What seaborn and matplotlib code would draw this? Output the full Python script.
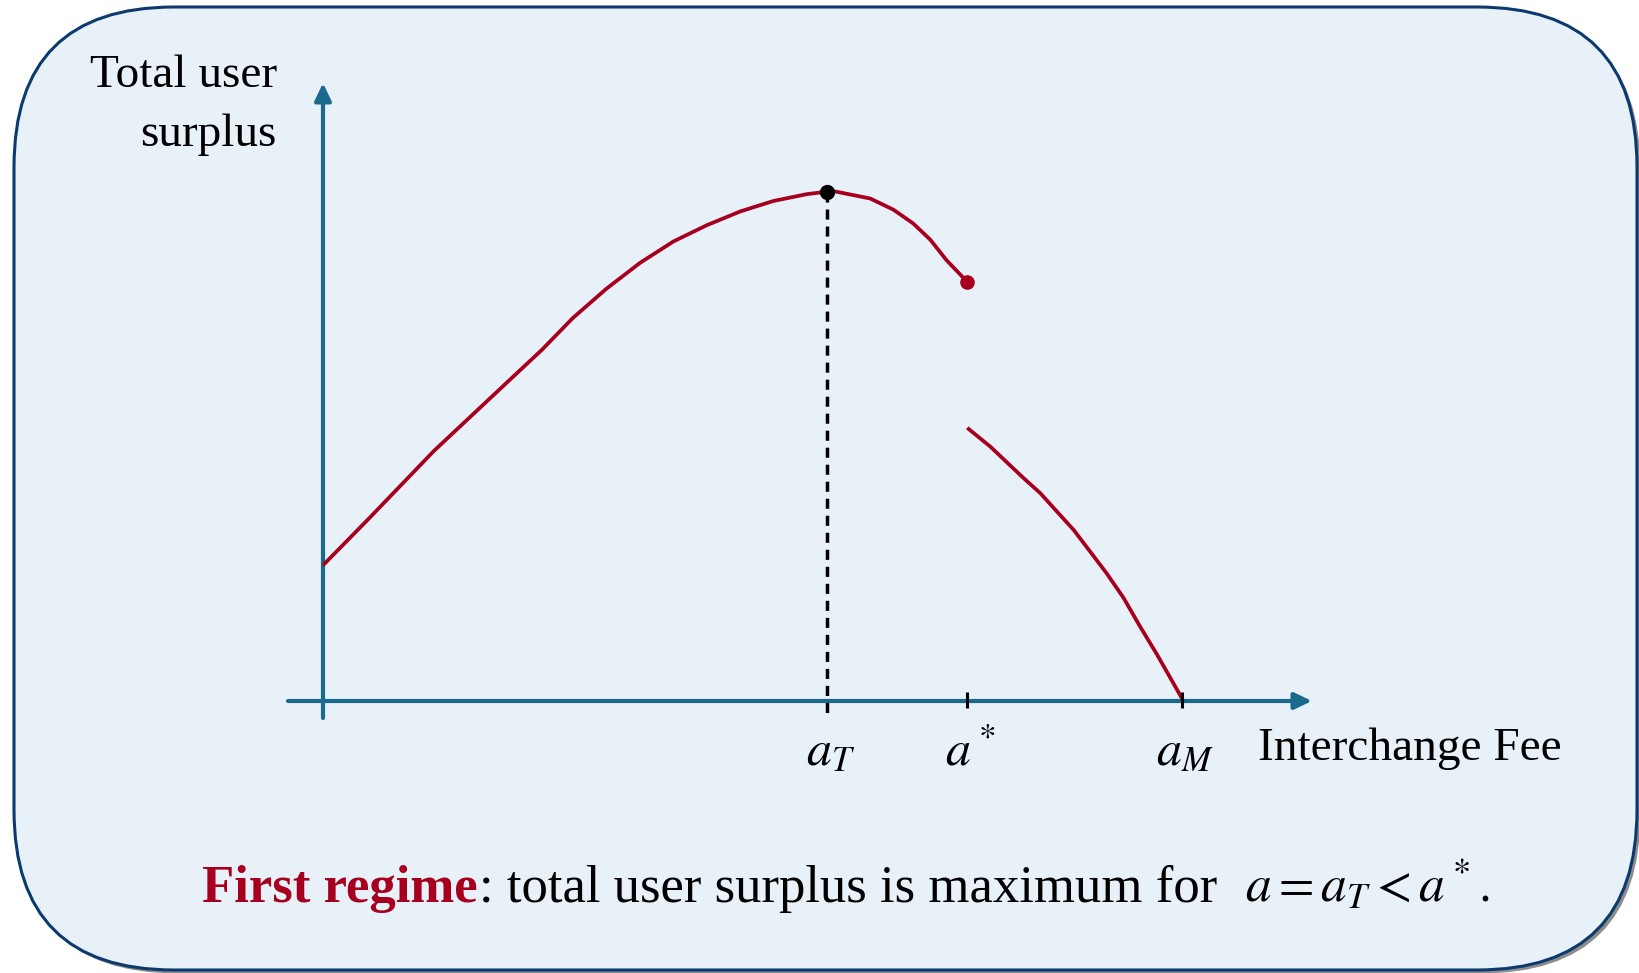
import numpy as np
import pandas as pd
import matplotlib
matplotlib.use("Agg")
import matplotlib.pyplot as plt
import seaborn as sns
from matplotlib.patches import FancyBboxPatch

# ---------------- data ----------------
fee_left = [0.00, 0.54, 1.29, 2.09, 2.55, 2.91, 3.30, 3.69, 4.08, 4.47, 4.86,
            5.24, 5.63, 5.87, 5.97, 6.37, 6.64, 6.87, 7.07, 7.26, 7.50]
surplus_left = [1.58, 2.13, 2.91, 3.66, 4.09, 4.46, 4.80, 5.10, 5.35, 5.54, 5.70,
                5.82, 5.90, 5.93, 5.93, 5.85, 5.72, 5.56, 5.37, 5.13, 4.88]
fee_right = [7.50, 7.77, 7.96, 8.15, 8.35, 8.54, 8.74, 8.93, 9.12, 9.32, 9.51,
             9.71, 10.00]
surplus_right = [3.18, 2.96, 2.78, 2.60, 2.42, 2.21, 1.99, 1.74, 1.49, 1.20, 0.87,
                 0.54, 0.03]

a_T = 5.87
a_star = 7.50
a_M = 10.00
peak_value = 5.93
jump_value = 4.88
tick_positions = [a_T, a_star, a_M]
tick_labels = [r"$a_T$", r"$a^*$", r"$a_M$"]

y_label_lines = ["Total user", "surplus"]
x_label = "Interchange Fee"
caption_bold = "First regime"
caption_rest = ": total user surplus is maximum for"
caption_math = r"$a = a_T < a^*.$"

# ---------------- style ----------------
sns.set_style("white")
plt.rcParams["font.family"] = ["Liberation Serif", "DejaVu Serif"]
plt.rcParams["mathtext.fontset"] = "stix"
plt.rcParams["text.color"] = "black"

RED = "#A6001E"
TEAL = "#1A6A8D"
NAVY = "#0B3A6E"
FILL = "#E8F0F8"

W, H = 1640, 973
fig = plt.figure(figsize=(W / 100, H / 100), dpi=100)
fig.patch.set_facecolor("white")

# one axes over the whole figure, equal scale in x and y
PX = 85.9          # pixels per data unit
X0, Y0 = 323, 701  # pixel position of origin
ax = fig.add_axes([0, 0, 1, 1])
ax.set_xlim(-X0 / PX, (W - X0) / PX)
ax.set_ylim(-(H - Y0) / PX, Y0 / PX)
ax.axis("off")
ax.patch.set_visible(False)

def dx(px):
    return (px - X0) / PX

def dy(py):
    return (Y0 - py) / PX

# rounded panel with shadow
bx0, bx1, by_top, by_bot = dx(14), dx(1637), dy(7), dy(970)
rad = 160 / PX
sh = 3.5 / PX
shadow = FancyBboxPatch((bx0 + sh, by_bot - sh), bx1 - bx0, by_top - by_bot,
                        boxstyle=f"round,pad=0,rounding_size={rad}",
                        fc="#8c8c8c", ec="none", zorder=0)
ax.add_patch(shadow)
panel = FancyBboxPatch((bx0, by_bot), bx1 - bx0, by_top - by_bot,
                       boxstyle=f"round,pad=0,rounding_size={rad}",
                       fc=FILL, ec=NAVY, lw=2.2, zorder=1)
ax.add_patch(panel)

# axes arrows
arrow_kw = dict(arrowstyle="-|>,head_length=1.05,head_width=0.5", color=TEAL,
                lw=3.0, shrinkA=0, shrinkB=0, mutation_scale=10)
ax.annotate("", xy=(0, dy(83)), xytext=(0, dy(718)), arrowprops=arrow_kw, zorder=3)
ax.annotate("", xy=(dx(1312), 0), xytext=(dx(288), 0), arrowprops=arrow_kw, zorder=3)

# curve
df_left = pd.DataFrame({"fee": fee_left, "surplus": surplus_left})
df_right = pd.DataFrame({"fee": fee_right, "surplus": surplus_right})
for d in (df_left, df_right):
    sns.lineplot(data=d, x="fee", y="surplus", ax=ax, color=RED, lw=2.7,
                 sort=False, estimator=None, legend=False, zorder=5,
                 solid_joinstyle="round", solid_capstyle="butt")
ax.set_xlabel("")
ax.set_ylabel("")

# dashed guide at a_T
ax.plot([a_T, a_T], [peak_value, dy(718)], color="black", lw=2.5,
        dashes=(2.9, 2.0), zorder=4)
# points
ax.plot([a_T], [peak_value], "o", color="black", ms=10, zorder=6)
ax.plot([a_star], [jump_value], "o", color=RED, ms=9.5, zorder=6)

# ticks
for t in tick_positions[1:]:
    ax.plot([t, t], [dy(708), dy(692)], color="black", lw=2.2, zorder=6,
            solid_capstyle="butt")

# tick labels
for t, lab in zip(tick_positions, tick_labels):
    ax.text(t + 3 / PX, dy(765), lab, ha="center", va="baseline", fontsize=36,
            color="black", zorder=7)

# axis titles
ax.text(dx(277), dy(87), y_label_lines[0], ha="right", va="baseline", fontsize=34)
ax.text(dx(277), dy(146), y_label_lines[1], ha="right", va="baseline", fontsize=34)
ax.text(dx(1258), dy(760), x_label, ha="left", va="baseline", fontsize=34)

# caption
t1 = ax.text(dx(202), dy(902), caption_bold, ha="left", va="baseline", fontsize=38,
             fontweight="bold", color=RED)
fig.canvas.draw()
r = fig.canvas.get_renderer()
bb = t1.get_window_extent(r)
x_after = bb.x1  # display pixels
t2 = ax.text(dx(x_after + 1), dy(902), caption_rest, ha="left", va="baseline",
             fontsize=38, color="black")
ax.text(dx(1245), dy(902), caption_math, ha="left", va="baseline", fontsize=37,
        color="black")

fig.savefig("out.png", dpi=100)
